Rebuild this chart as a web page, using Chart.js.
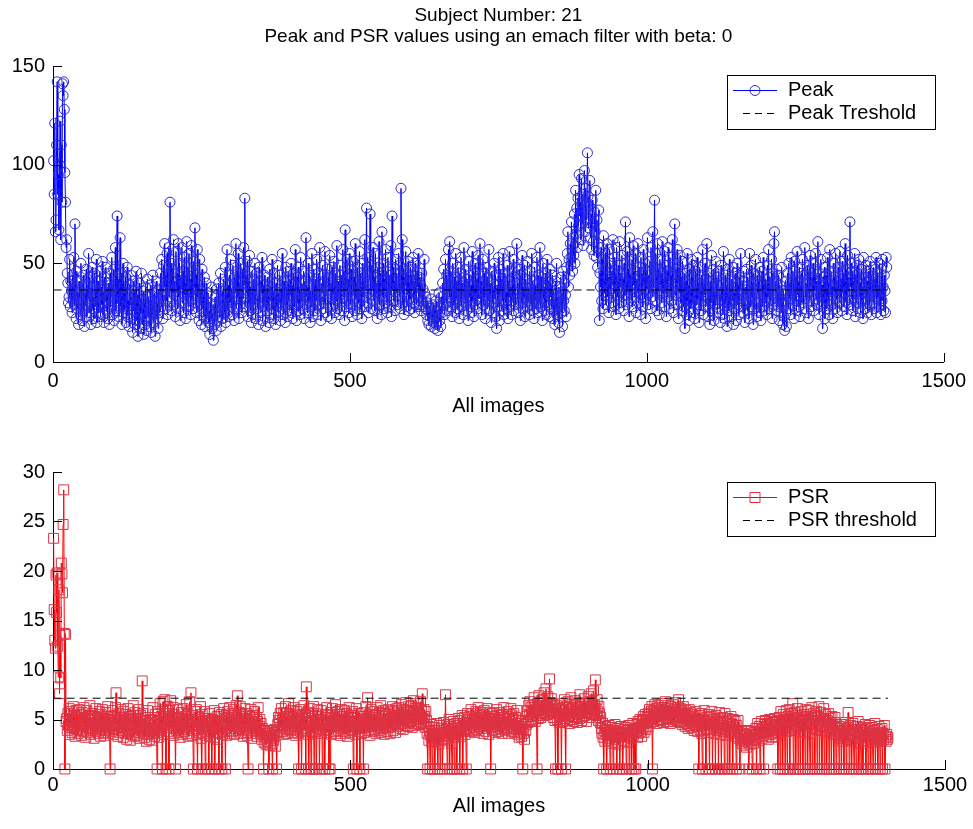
<!DOCTYPE html>
<html>
<head>
<meta charset="utf-8">
<title>Peak and PSR values</title>
<script src="https://cdn.jsdelivr.net/npm/chart.js@4.4.0/dist/chart.umd.min.js"></script>
<style>
  html, body { margin: 0; padding: 0; background: #fff; }
  #wrap { position: relative; width: 973px; height: 829px; overflow: hidden; }
  canvas { position: absolute; left: 0; }
  #peakChart { top: 0; }
  #psrChart { top: 415px; }
</style>
</head>
<body>
<div id="wrap">
  <canvas id="peakChart" width="973" height="415"></canvas>
  <canvas id="psrChart" width="973" height="414"></canvas>
</div>
<script>
// --- DATA (one value per image) ---
const titleLines = ['Subject Number: 21', 'Peak and PSR values using an emach filter with beta: 0'];
const xLabel = 'All images';
const imageTicks = [0, 500, 1000, 1500];
const peakTicks = [0, 50, 100, 150];
const psrTicks = [0, 5, 10, 15, 20, 25, 30];
const peakThreshold = 36.5;
const psrThreshold = 7.15;
const thresholdSpan = [1, 1404];

const peakValues = [
  102, 85, 121, 66, 72, 110, 142, 85, 95, 67, 100, 122, 62, 110, 81, 141, 135, 142, 128, 96,
  81, 58, 62, 45, 40, 30, 33, 52, 28, 41, 36, 25, 44, 31, 53, 29, 70, 38, 22, 46,
  27, 35, 19, 41, 33, 24, 50, 30, 21, 38, 44, 26, 18, 35, 29, 47, 23, 39, 32, 55,
  25, 43, 30, 19, 37, 48, 27, 33, 22, 45, 36, 28, 52, 20, 34, 41, 25, 30, 46, 23,
  38, 29, 51, 24, 35, 20, 43, 31, 48, 26, 37, 22, 40, 33, 19, 45, 28, 36, 53, 24,
  31, 47, 21, 39, 58, 26, 34, 74, 30, 42, 23, 36, 63, 28, 45, 19, 33, 50, 25, 38,
  27, 43, 20, 35, 48, 24, 31, 18, 39, 29, 44, 22, 33, 15, 41, 26, 36, 19, 30, 46,
  21, 34, 13, 28, 40, 17, 32, 25, 45, 19, 27, 36, 14, 30, 22, 38, 16, 29, 42, 23,
  33, 18, 26, 39, 15, 31, 24, 44, 20, 28, 35, 13, 27, 41, 22, 30, 17, 37, 25, 32,
  45, 28, 52, 34, 22, 49, 38, 60, 27, 44, 31, 55, 24, 40, 58, 33, 81, 36, 50, 26,
  47, 35, 62, 29, 41, 23, 56, 38, 45, 27, 60, 33, 50, 21, 43, 37, 58, 30, 46, 25,
  53, 34, 40, 22, 61, 31, 48, 28, 55, 36, 42, 24, 59, 32, 46, 27, 51, 38, 68, 30,
  44, 25, 57, 33, 39, 21, 52, 29, 36, 19, 47, 27, 34, 23, 43, 18, 31, 40, 22, 28,
  35, 20, 26, 14, 30, 22, 38, 17, 25, 11, 29, 19, 33, 24, 16, 37, 21, 28, 40, 23,
  31, 45, 18, 27, 36, 22, 42, 29, 25, 48, 20, 34, 57, 26, 39, 23, 44, 30, 52, 28,
  37, 24, 49, 31, 21, 43, 35, 60, 27, 46, 33, 55, 22, 40, 29, 50, 36, 25, 47, 32,
  58, 39, 83, 28, 44, 35, 51, 23, 41, 30, 54, 26, 38, 20, 46, 33, 24, 42, 29, 50,
  22, 37, 45, 27, 33, 19, 48, 30, 25, 41, 35, 53, 21, 39, 28, 44, 32, 18, 36, 26,
  43, 29, 34, 20, 47, 31, 38, 24, 52, 27, 36, 22, 45, 33, 19, 40, 28, 49, 25, 35,
  30, 44, 21, 37, 27, 55, 32, 24, 41, 35, 20, 48, 29, 38, 23, 46, 31, 26, 42, 34,
  50, 25, 39, 22, 45, 33, 28, 57, 36, 21, 43, 30, 48, 26, 37, 24, 53, 31, 40, 27,
  35, 46, 22, 41, 29, 63, 33, 38, 25, 50, 31, 44, 20, 36, 28, 55, 34, 23, 47, 39,
  26, 42, 31, 52, 24, 37, 45, 29, 58, 33, 21, 40, 35, 49, 27, 44, 30, 56, 25, 38,
  47, 32, 23, 43, 36, 54, 28, 40, 22, 48, 34, 29, 51, 37, 25, 45, 31, 59, 27, 41,
  35, 24, 49, 30, 44, 26, 39, 57, 33, 46, 21, 67, 36, 28, 52, 31, 42, 25, 55, 38,
  29, 47, 34, 23, 51, 37, 43, 26, 60, 32, 40, 24, 48, 35, 30, 56, 27, 45, 38, 22,
  50, 33, 41, 28, 62, 36, 44, 78, 30, 53, 25, 39, 46, 75, 34, 27, 49, 37, 58, 31,
  43, 26, 55, 35, 40, 22, 48, 32, 61, 29, 45, 38, 24, 66, 33, 50, 27, 42, 36, 57,
  30, 46, 25, 53, 39, 28, 44, 34, 59, 23, 74, 37, 48, 31, 41, 26, 52, 35, 45, 29,
  38, 55, 33, 49, 27, 88, 36, 62, 30, 47, 24, 43, 39, 56, 28, 45, 34, 51, 26, 40,
  32, 48, 27, 44, 36, 53, 30, 41, 25, 50, 35, 29, 46, 38, 55, 28, 43, 33, 39, 26,
  45, 31, 37, 28, 52, 35, 27, 33, 24, 30, 21, 26, 19, 28, 23, 32, 18, 25, 22, 29,
  20, 27, 17, 24, 31, 19, 26, 16, 23, 35, 21, 28, 18, 33, 25, 40, 29, 47, 24, 37,
  52, 30, 44, 26, 39, 57, 33, 61, 28, 46, 35, 23, 50, 38, 29, 43, 25, 55, 32, 41,
  27, 48, 36, 22, 45, 31, 53, 28, 40, 34, 24, 58, 37, 30, 47, 26, 42, 35, 21, 51,
  33, 44, 28, 39, 25, 56, 31, 46, 23, 37, 50, 29, 42, 35, 27, 54, 32, 48, 60, 30,
  41, 24, 36, 52, 29, 45, 33, 22, 48, 38, 27, 43, 31, 57, 26, 40, 35, 20, 46, 30,
  37, 25, 50, 32, 44, 23, 17, 39, 28, 53, 34, 21, 47, 36, 26, 42, 31, 55, 24, 38,
  45, 30, 35, 27, 49, 22, 41, 33, 56, 28, 38, 24, 46, 31, 52, 26, 43, 35, 29, 48,
  60, 32, 40, 25, 47, 36, 21, 44, 30, 54, 27, 38, 33, 49, 23, 42, 35, 28, 51, 31,
  37, 24, 46, 33, 29, 55, 26, 41, 36, 22, 48, 31, 39, 27, 53, 34, 25, 44, 30, 58,
  28, 43, 35, 21, 50, 32, 38, 26, 45, 30, 24, 52, 36, 29, 41, 23, 47, 33, 39, 27,
  44, 22, 36, 30, 19, 41, 27, 50, 24, 33, 20, 38, 15, 29, 43, 25, 35, 18, 46, 31,
  26, 40, 34, 23, 48, 55, 66, 38, 52, 44, 60, 49, 71, 57, 46, 63, 54, 75, 50, 87,
  65, 78, 58, 83, 69, 95, 74, 81, 62, 93, 70, 85, 59, 77, 97, 66, 88, 72, 80, 106,
  84, 68, 79, 92, 63, 75, 57, 82, 70, 61, 54, 76, 66, 87, 53, 72, 48, 60, 77, 21,
  45, 38, 58, 31, 52, 27, 64, 41, 35, 55, 29, 48, 60, 33, 43, 25, 57, 37, 50, 30,
  46, 39, 62, 28, 53, 35, 44, 24, 58, 41, 33, 49, 27, 61, 38, 45, 30, 54, 36, 42,
  26, 50, 34, 71, 40, 29, 56, 37, 47, 23, 63, 35, 44, 31, 52, 28, 59, 39, 46, 33,
  55, 25, 42, 36, 60, 30, 48, 38, 24, 53, 34, 45, 28, 57, 41, 32, 50, 22, 46, 37,
  63, 29, 44, 35, 51, 27, 58, 40, 33, 66, 38, 48, 82, 31, 55, 43, 26, 60, 36, 47,
  24, 52, 39, 45, 30, 61, 35, 42, 28, 56, 37, 49, 23, 46, 33, 58, 41, 27, 53, 36,
  44, 31, 62, 38, 25, 50, 70, 34, 47, 29, 57, 40, 22, 48, 35, 54, 30, 43, 26, 51,
  37, 28, 45, 17, 33, 41, 24, 55, 31, 39, 21, 47, 35, 27, 52, 30, 43, 25, 49, 34,
  22, 46, 38, 29, 53, 32, 40, 20, 48, 36, 26, 44, 31, 57, 24, 39, 34, 50, 28, 42,
  60, 33, 23, 45, 37, 19, 41, 30, 54, 26, 38, 47, 21, 35, 29, 51, 32, 43, 25, 39,
  46, 27, 34, 20, 49, 31, 40, 24, 56, 36, 22, 44, 30, 38, 18, 47, 33, 26, 52, 29,
  37, 23, 42, 31, 48, 19, 35, 27, 45, 33, 21, 50, 29, 39, 24, 43, 36, 55, 28, 32,
  41, 25, 46, 30, 20, 38, 34, 47, 26, 43, 31, 22, 55, 36, 28, 49, 33, 40, 19, 45,
  27, 37, 52, 30, 23, 44, 35, 41, 25, 48, 32, 21, 39, 46, 28, 53, 34, 26, 42, 30,
  38, 24, 49, 33, 57, 27, 43, 31, 36, 52, 22, 45, 29, 60, 66, 35, 41, 26, 47, 32,
  28, 44, 21, 39, 33, 25, 48, 30, 19, 36, 23, 16, 29, 41, 18, 35, 45, 27, 50, 32,
  40, 24, 53, 35, 29, 46, 37, 22, 51, 31, 43, 26, 56, 34, 41, 28, 48, 23, 38, 45,
  30, 52, 36, 27, 44, 58, 33, 40, 25, 49, 35, 22, 46, 31, 54, 38, 28, 43, 34, 50,
  26, 47, 37, 55, 32, 41, 29, 61, 36, 24, 45, 33, 52, 28, 39, 17, 43, 30, 48, 22,
  35, 44, 27, 53, 31, 40, 24, 57, 34, 46, 29, 38, 22, 50, 36, 43, 27, 55, 32, 41,
  25, 48, 37, 30, 56, 33, 42, 26, 51, 35, 45, 28, 39, 60, 31, 47, 24, 54, 36, 43,
  29, 71, 38, 50, 32, 46, 26, 41, 35, 55, 23, 44, 30, 49, 37, 27, 52, 33, 40, 25,
  47, 31, 38, 22, 53, 35, 43, 27, 49, 32, 41, 25, 46, 36, 29, 51, 34, 24, 44, 38,
  30, 48, 27, 42, 35, 53, 25, 45, 33, 39, 28, 50, 36, 24, 47, 31, 52, 38, 26, 44,
  36, 25, 53, 48
];

const psrValues = [
  23.3, 16.1, 13.0, 12.2, 19.6, 15.8, 19.8, 12.4, 9.3, 18.1, 7.6, 13.5, 9.2, 20.8, 19.7, 17.8, 24.7, 28.2, 13.7, 0,
  13.6, 4.8, 5.1, 3.9, 5.6, 4.4, 6.1, 3.5, 5.0, 4.2, 5.8, 3.7, 4.9, 6.3, 4.1, 5.4, 3.3, 4.7, 5.9, 4.0,
  5.2, 3.6, 4.5, 6.0, 3.9, 5.5, 4.3, 3.4, 5.7, 4.8, 3.8, 6.2, 4.6, 5.1, 3.2, 4.4, 5.9, 3.7, 4.9, 5.3,
  4.1, 6.4, 3.5, 5.0, 4.7, 3.9, 5.6, 4.2, 3.1, 5.3, 4.6, 6.1, 3.8, 4.4, 5.2, 3.6, 4.9, 5.8, 4.0, 3.3,
  5.5, 4.3, 6.0, 3.7, 4.8, 5.1, 3.4, 4.5, 5.7, 3.9, 4.2, 6.3, 3.6, 5.0, 4.4, 0, 5.3, 3.8, 4.7, 5.9,
  4.0, 3.5, 5.4, 4.6, 6.2, 7.7, 4.1, 5.0, 3.3, 4.8, 5.6, 3.7, 4.3, 6.0, 3.9, 5.2, 4.5, 3.2, 5.8, 4.2,
  3.6, 4.9, 5.5, 3.0, 4.4, 6.1, 3.8, 4.7, 5.3, 2.9, 4.1, 5.0, 3.5, 4.6, 6.4, 3.3, 4.0, 5.7, 3.7, 4.8,
  5.1, 3.4, 4.3, 6.0, 3.1, 4.5, 5.4, 3.9, 4.2, 8.9, 5.6, 3.6, 4.8, 3.2, 5.2, 4.0, 2.8, 4.6, 5.9, 3.5,
  4.4, 3.0, 5.0, 3.8, 4.7, 2.9, 4.1, 6.2, 3.6, 4.9, 3.3, 5.5, 4.0, 3.7, 0, 4.5, 5.8, 3.2, 4.3, 6.6,
  3.9, 5.3, 4.6, 0, 6.8, 5.1, 3.5, 7.0, 4.8, 0, 5.6, 4.2, 6.3, 3.8, 0, 5.9, 4.4, 6.9, 3.6, 5.0,
  4.7, 6.2, 3.4, 5.5, 4.1, 0, 5.2, 3.9, 4.6, 6.0, 3.7, 4.3, 5.1, 3.2, 4.8, 5.7, 3.5, 4.0, 6.1, 4.4,
  3.8, 5.3, 4.2, 6.5, 3.6, 4.9, 5.6, 3.3, 4.5, 6.8, 5.0, 7.7, 4.1, 3.4, 5.4, 0, 4.7, 3.9, 5.8, 4.3,
  6.0, 3.5, 0, 4.8, 5.2, 3.7, 4.4, 6.3, 3.1, 0, 5.5, 4.0, 3.6, 4.9, 5.8, 0, 3.4, 4.6, 5.1, 3.8,
  4.2, 0, 5.6, 3.3, 4.7, 3.9, 0, 5.0, 4.4, 3.2, 5.9, 0, 4.1, 3.6, 4.8, 5.3, 3.0, 4.5, 0, 5.7,
  3.7, 4.3, 5.5, 0, 3.5, 4.9, 6.1, 3.8, 4.2, 0, 5.4, 3.4, 4.6, 5.8, 3.9, 4.4, 6.2, 3.6, 5.0, 4.1,
  5.6, 3.8, 4.7, 6.0, 3.5, 5.2, 4.3, 6.4, 5.0, 7.4, 4.5, 3.9, 5.7, 4.1, 6.3, 3.6, 4.8, 5.5, 4.0, 3.3,
  5.1, 4.4, 6.1, 3.7, 4.9, 5.6, 3.4, 0, 4.6, 5.3, 3.9, 4.2, 6.0, 3.1, 4.7, 5.4, 3.6, 4.1, 5.8, 3.8,
  4.5, 5.2, 3.3, 4.8, 6.2, 3.9, 4.3, 5.0, 3.5, 4.6, 3.0, 4.1, 3.6, 0, 2.7, 3.8, 3.2, 2.5, 3.9, 3.4,
  2.8, 3.6, 0, 3.1, 2.4, 3.9, 3.3, 2.6, 0, 3.7, 2.9, 3.5, 4.0, 2.3, 3.4, 0, 3.8, 4.5, 5.2, 3.7,
  4.9, 5.6, 4.2, 6.1, 3.8, 5.0, 4.4, 5.7, 3.5, 4.7, 6.3, 4.0, 5.3, 3.6, 4.8, 6.6, 4.1, 5.5, 3.9, 5.1,
  4.3, 5.9, 3.7, 4.6, 6.2, 4.0, 5.4, 3.4, 4.9, 5.8, 4.2, 3.6, 0, 5.1, 4.5, 6.0, 3.8, 0, 4.7, 5.5,
  4.1, 6.4, 3.9, 5.2, 0, 8.3, 4.6, 5.7, 3.5, 0, 4.8, 6.1, 4.2, 0, 5.4, 3.7, 4.9, 6.3, 0, 4.4,
  5.6, 3.8, 0, 4.5, 6.0, 4.1, 5.3, 0, 3.6, 4.7, 5.9, 4.3, 0, 5.0, 3.9, 4.6, 0, 5.5, 4.0, 6.2,
  3.7, 4.8, 5.4, 0, 4.2, 0, 5.7, 3.5, 4.6, 6.1, 4.9, 3.8, 5.2, 4.4, 6.5, 3.6, 5.0, 4.3, 5.8, 3.9,
  4.7, 5.5, 3.4, 4.9, 6.0, 4.1, 5.3, 3.8, 4.5, 5.9, 3.6, 4.8, 5.6, 4.2, 3.3, 5.1, 4.4, 6.2, 3.7, 4.6,
  5.4, 3.9, 4.3, 5.8, 0, 4.0, 5.2, 3.5, 4.7, 6.1, 0, 4.4, 5.6, 3.8, 4.9, 0, 5.3, 4.1, 3.6, 5.0,
  4.5, 0, 5.7, 3.7, 4.8, 6.3, 4.2, 5.1, 7.2, 3.9, 4.6, 5.5, 3.4, 4.9, 6.0, 4.3, 5.2, 3.8, 4.7, 5.8,
  4.0, 5.4, 3.6, 4.8, 6.2, 4.4, 5.0, 3.9, 5.7, 4.2, 6.4, 3.7, 4.6, 5.3, 4.1, 5.9, 3.5, 4.9, 5.6, 4.3,
  5.1, 3.8, 4.7, 6.0, 4.2, 5.5, 3.6, 4.9, 5.8, 4.4, 6.3, 3.9, 5.2, 4.6, 5.9, 3.7, 4.8, 6.1, 4.3, 5.4,
  4.5, 6.2, 5.0, 4.1, 5.7, 6.5, 4.6, 5.3, 4.0, 6.0, 5.5, 4.4, 6.7, 5.1, 4.8, 5.9, 4.3, 6.3, 5.2, 4.7,
  5.8, 4.9, 6.4, 4.2, 5.6, 6.9, 4.6, 5.3, 6.1, 4.4, 5.7, 6.6, 4.8, 5.0, 6.2, 4.5, 5.4, 6.8, 4.7, 5.9,
  7.6, 5.1, 4.6, 6.0, 5.3, 4.2, 5.8, 4.9, 3.6, 0, 4.3, 2.9, 3.8, 0, 3.4, 4.5, 2.7, 0, 3.9, 3.1,
  4.2, 0, 3.5, 2.8, 4.6, 3.2, 0, 3.9, 2.5, 4.4, 0, 3.6, 3.0, 4.1, 0, 3.3, 4.7, 2.9, 3.7, 7.5,
  4.0, 3.4, 0, 4.5, 3.1, 5.0, 0, 3.8, 4.3, 2.6, 0, 3.6, 4.8, 3.2, 0, 4.1, 3.5, 4.6, 0, 3.9,
  4.4, 5.1, 3.7, 0, 4.9, 3.3, 4.2, 5.4, 0, 3.8, 4.6, 5.2, 3.5, 4.0, 0, 4.7, 5.6, 4.1, 5.0, 3.9,
  5.3, 4.4, 6.0, 3.8, 4.9, 5.6, 4.2, 5.1, 3.7, 4.6, 5.8, 4.0, 5.4, 4.5, 6.2, 3.9, 5.0, 4.3, 5.7, 4.8,
  4.1, 5.5, 3.6, 4.7, 5.9, 4.3, 5.2, 3.8, 4.9, 6.1, 4.4, 5.0, 3.5, 4.6, 5.7, 0, 4.2, 5.3, 3.9, 4.8,
  5.6, 4.0, 5.1, 3.7, 4.5, 6.0, 4.3, 5.4, 3.8, 4.9, 5.7, 4.1, 5.2, 4.6, 3.6, 5.5, 4.4, 6.2, 4.0, 5.0,
  4.7, 3.9, 5.3, 4.2, 5.8, 3.6, 4.8, 5.5, 4.1, 6.1, 4.5, 3.8, 5.0, 4.3, 5.6, 3.7, 4.6, 5.2, 4.0, 5.9,
  4.4, 3.5, 4.9, 3.2, 4.1, 3.7, 4.6, 3.3, 4.0, 0, 3.6, 4.3, 3.0, 4.8, 3.9, 4.5, 5.3, 5.9, 4.7, 6.4,
  5.5, 6.8, 5.0, 6.2, 5.7, 4.9, 6.5, 5.3, 7.2, 5.8, 4.8, 6.0, 5.4, 0, 6.6, 5.1, 7.4, 5.9, 6.3, 5.2,
  6.9, 5.6, 7.0, 6.1, 5.4, 7.7, 6.4, 5.7, 8.1, 6.0, 5.5, 7.3, 6.2, 5.8, 9.1, 6.7, 5.9, 7.1, 6.3, 5.6,
  6.5, 5.2, 6.0, 4.9, 0, 5.7, 6.4, 5.0, 0, 6.1, 5.4, 4.7, 6.6, 5.3, 0, 5.9, 4.8, 6.2, 5.5, 7.0,
  5.1, 0, 6.3, 5.6, 4.9, 6.8, 5.4, 6.0, 4.6, 5.8, 7.2, 5.3, 6.5, 5.0, 6.1, 4.8, 5.7, 6.9, 5.2, 6.4,
  5.5, 4.7, 6.2, 5.9, 5.1, 7.5, 5.6, 6.3, 4.9, 6.7, 5.3, 6.0, 7.1, 5.4, 6.6, 5.8, 4.8, 6.1, 5.7, 7.3,
  6.0, 5.2, 6.8, 5.6, 7.6, 6.4, 5.5, 6.2, 7.9, 5.9, 6.5, 9.0, 6.1, 5.4, 7.0, 5.8, 4.9, 6.3, 5.6, 4.7,
  5.2, 4.1, 3.6, 4.6, 3.2, 0, 3.9, 2.8, 4.3, 3.5, 0, 4.0, 2.9, 3.7, 4.4, 3.1, 0, 3.8, 2.6, 4.2,
  3.4, 0, 3.9, 3.0, 4.5, 2.7, 3.6, 0, 4.1, 3.3, 2.5, 3.8, 0, 3.2, 4.3, 2.9, 3.7, 0, 3.5, 4.0,
  2.8, 3.6, 4.2, 0, 3.3, 3.9, 2.7, 4.4, 0, 3.5, 4.0, 3.1, 0, 3.8, 4.6, 3.4, 0, 4.1, 3.7, 0,
  3.9, 4.5, 3.2, 4.8, 3.6, 4.2, 5.0, 3.8, 4.4, 3.3, 4.9, 4.1, 5.3, 3.7, 4.6, 5.5, 4.0, 4.8, 5.2, 4.3,
  5.6, 4.9, 6.0, 5.2, 4.7, 5.8, 6.3, 0, 5.1, 5.9, 4.8, 6.5, 5.4, 6.1, 4.6, 5.7, 6.4, 5.0, 6.2, 5.5,
  4.9, 6.0, 5.3, 6.6, 5.0, 5.8, 4.7, 6.2, 5.5, 6.8, 5.1, 5.9, 4.8, 6.4, 5.6, 6.1, 5.2, 4.6, 6.3, 5.7,
  5.0, 6.5, 5.4, 4.8, 6.0, 5.3, 6.7, 5.1, 5.8, 4.9, 6.2, 7.0, 5.6, 4.7, 6.1, 5.2, 5.9, 4.5, 5.5, 6.3,
  4.8, 5.4, 4.3, 5.9, 5.0, 4.6, 5.6, 4.1, 5.2, 6.0, 4.4, 5.7, 4.9, 4.2, 5.5, 4.7, 5.3, 3.9, 5.0, 4.5,
  5.8, 4.3, 5.1, 3.8, 4.9, 0, 5.4, 4.0, 4.7, 5.6, 3.6, 0, 5.0, 4.4, 5.9, 3.9, 4.6, 0, 5.2, 4.1,
  4.8, 5.5, 3.7, 0, 4.5, 5.3, 4.0, 5.8, 0, 4.3, 5.0, 3.6, 4.7, 0, 5.4, 4.2, 3.9, 5.1, 0, 4.6,
  5.7, 4.1, 3.5, 0, 4.8, 5.2, 3.8, 4.4, 0, 5.6, 4.0, 3.4, 4.9, 0, 5.1, 4.3, 3.7, 0, 4.6, 5.3,
  3.9, 4.5, 0, 5.0, 3.6, 4.2, 4.8, 3.3, 0, 4.4, 3.8, 4.9, 3.1, 3.7, 0, 3.4, 2.9, 3.8, 2.6, 3.5,
  3.0, 2.4, 3.6, 2.8, 3.3, 2.2, 3.9, 3.1, 2.7, 0, 3.5, 2.5, 3.2, 3.8, 2.9, 0, 3.4, 2.6, 3.7, 3.0,
  3.5, 4.1, 0, 3.2, 4.6, 3.8, 2.9, 4.3, 0, 3.6, 4.8, 3.1, 4.0, 3.4, 0, 4.5, 3.7, 4.9, 3.3, 4.2,
  3.8, 4.6, 3.0, 4.4, 5.0, 3.5, 4.1, 4.8, 3.2, 4.7, 3.9, 4.3, 5.1, 3.6, 4.5, 3.3, 4.0, 4.9, 0, 3.7,
  5.2, 4.4, 0, 5.8, 3.9, 4.7, 0, 5.5, 4.1, 5.0, 0, 4.6, 5.9, 3.8, 0, 5.3, 4.2, 6.0, 0, 4.8,
  5.6, 3.9, 5.1, 6.6, 0, 4.5, 5.7, 4.0, 0, 5.4, 4.3, 6.1, 0, 4.9, 5.2, 3.7, 0, 5.8, 4.4, 5.0,
  0, 4.6, 5.5, 3.8, 0, 6.0, 4.2, 5.3, 0, 4.7, 5.9, 3.6, 0, 5.1, 4.5, 6.2, 0, 4.1, 5.6, 4.9,
  0, 5.4, 4.0, 5.8, 0, 4.6, 5.2, 6.3, 0, 4.3, 5.7, 3.9, 0, 5.0, 4.4, 6.1, 0, 4.8, 5.5, 3.7,
  0, 4.9, 4.2, 5.6, 0, 3.8, 5.1, 4.4, 0, 5.3, 4.0, 3.5, 0, 4.7, 5.2, 3.6, 0, 4.5, 3.9, 4.1,
  3.4, 0, 4.3, 3.1, 3.8, 0, 4.5, 2.8, 3.6, 0, 4.1, 3.3, 4.7, 0, 3.9, 3.0, 5.7, 4.2, 0, 3.5,
  4.4, 2.9, 0, 3.7, 4.6, 3.2, 0, 4.0, 3.4, 2.7, 0, 4.3, 3.6, 4.8, 0, 3.1, 3.9, 2.6, 0, 4.2,
  3.5, 0, 4.0, 2.9, 3.7, 4.5, 0, 3.3, 4.1, 2.8, 0, 3.8, 4.4, 3.0, 0, 3.6, 4.2, 2.7, 0, 3.9,
  3.2, 4.6, 0, 3.5, 2.9, 4.0, 0, 3.4, 4.3, 3.1, 0, 3.7, 2.8, 4.1, 0, 3.6, 3.0, 4.4, 0, 3.3,
  2.8, 3.5, 3.0, 3.2
];

// image number of each reading
const imageIndex = peakValues.map((_, i) => i + 1);

const FONT = '"Liberation Sans", Arial, Helvetica, sans-serif';

// MATLAB look: inward ticks, legend box, two-line title
const matlabAxes = {
    id: 'matlabAxes',
    afterDraw(chart, args, opts) {
        const ctx = chart.ctx;
        const { x, y } = chart.scales;
        ctx.save();
        ctx.strokeStyle = '#000';
        ctx.lineWidth = 1;
        ctx.setLineDash([]);
        ctx.beginPath();
        x.ticks.forEach(t => {
            const px = Math.round(x.getPixelForValue(t.value)) + 0.5;
            ctx.moveTo(px, y.bottom);
            ctx.lineTo(px, y.bottom - 9);
        });
        y.ticks.forEach(t => {
            const py = Math.round(y.getPixelForValue(t.value)) + 0.5;
            ctx.moveTo(x.left, py);
            ctx.lineTo(x.left + 9, py);
        });
        ctx.stroke();

        if (opts.title) {
            ctx.fillStyle = '#000';
            ctx.font = '19px ' + FONT;
            ctx.textAlign = 'center';
            ctx.textBaseline = 'middle';
            const cx = (chart.chartArea.left + chart.chartArea.right) / 2;
            opts.title.forEach((line, i) => ctx.fillText(line, cx, 16 + 21 * i));
        }

        const lg = opts.legend;
        if (lg) {
            ctx.fillStyle = '#fff';
            ctx.fillRect(lg.x, lg.y, lg.w, lg.h);
            ctx.strokeStyle = '#000';
            ctx.strokeRect(lg.x + 0.5, lg.y + 0.5, lg.w, lg.h);
            lg.rows.forEach((row, i) => {
                const ry = lg.y + 15 + 23 * i + 0.5;
                ctx.strokeStyle = row.color;
                ctx.lineWidth = 1;
                if (row.dashed) {
                    ctx.setLineDash([7, 5]);
                    ctx.beginPath();
                    ctx.moveTo(lg.x + 16, ry);
                    ctx.lineTo(lg.x + 50, ry);
                    ctx.stroke();
                    ctx.setLineDash([]);
                } else {
                    ctx.beginPath();
                    ctx.moveTo(lg.x + 6, ry);
                    ctx.lineTo(lg.x + 50, ry);
                    ctx.stroke();
                    ctx.strokeStyle = row.markerColor;
                    ctx.beginPath();
                    if (row.marker === 'circle') {
                        ctx.arc(lg.x + 28, ry, 5, 0, Math.PI * 2);
                    } else {
                        ctx.rect(lg.x + 23, ry - 5, 10, 10);
                    }
                    ctx.stroke();
                }
                ctx.fillStyle = '#000';
                ctx.font = '20px ' + FONT;
                ctx.textAlign = 'left';
                ctx.textBaseline = 'middle';
                ctx.fillText(row.label, lg.x + 61, ry);
            });
        }
        ctx.restore();
    }
};

function buildChart(canvasId, cfg) {
    return new Chart(document.getElementById(canvasId), {
        type: 'line',
        plugins: [matlabAxes],
        data: {
            datasets: [
                {
                    label: cfg.thresholdLabel,
                    data: thresholdSpan.map(v => ({ x: v, y: cfg.threshold })),
                    borderColor: '#000',
                    borderWidth: 1,
                    borderDash: [8, 5],
                    pointRadius: 0,
                    clip: false
                },
                {
                    label: cfg.label,
                    data: cfg.values.map((v, i) => ({ x: imageIndex[i], y: v })),
                    borderColor: cfg.color,
                    borderWidth: 1,
                    tension: 0,
                    pointStyle: cfg.pointStyle,
                    pointRadius: cfg.pointRadius,
                    pointBorderColor: cfg.markerColor,
                    pointBackgroundColor: 'rgba(0,0,0,0)',
                    pointBorderWidth: 1,
                    clip: false
                }
            ]
        },
        options: {
            responsive: false,
            animation: false,
            devicePixelRatio: 1,
            events: [],
            layout: { padding: { top: cfg.top, right: 28, left: 0, bottom: 0 } },
            plugins: {
                legend: { display: false },
                tooltip: { enabled: false },
                title: { display: false },
                matlabAxes: { title: cfg.title, legend: cfg.legend }
            },
            scales: {
                x: {
                    type: 'linear',
                    min: 0,
                    max: 1500,
                    afterBuildTicks: s => { s.ticks = imageTicks.map(v => ({ value: v })); },
                    afterFit: s => { s.height = cfg.xHeight; },
                    grid: { display: false, drawTicks: false },
                    border: { display: true, color: '#000', width: 1 },
                    ticks: {
                        font: { family: FONT, size: 20 },
                        color: '#000',
                        padding: cfg.xTickPad,
                        maxRotation: 0,
                        autoSkip: false,
                        callback: v => String(v)
                    },
                    title: {
                        display: true,
                        text: xLabel,
                        color: '#000',
                        font: { family: FONT, size: 20 },
                        padding: { top: 0, bottom: cfg.xTitlePad }
                    }
                },
                y: {
                    type: 'linear',
                    min: 0,
                    max: cfg.yTicks[cfg.yTicks.length - 1],
                    afterBuildTicks: s => { s.ticks = cfg.yTicks.map(v => ({ value: v })); },
                    afterFit: s => { s.width = 53; },
                    grid: { display: false, drawTicks: false },
                    border: { display: true, color: '#000', width: 1 },
                    ticks: {
                        font: { family: FONT, size: 20 },
                        color: '#000',
                        padding: 8,
                        callback: v => String(v)
                    }
                }
            }
        }
    });
}

document.addEventListener('DOMContentLoaded', () => {
    buildChart('peakChart', {
        label: 'Peak',
        thresholdLabel: 'Peak Treshold',
        values: peakValues,
        threshold: peakThreshold,
        yTicks: peakTicks,
        color: '#0000ff',
        markerColor: '#2a2ad2',
        pointStyle: 'circle',
        pointRadius: 5,
        top: 66,
        xHeight: 53,
        xTickPad: 7,
        xTitlePad: -3,
        title: titleLines,
        legend: {
            x: 727, y: 75, w: 208, h: 54,
            rows: [
                { label: 'Peak', color: '#0000ff', markerColor: '#2a2ad2', marker: 'circle' },
                { label: 'Peak Treshold', color: '#000', dashed: true }
            ]
        }
    });

    buildChart('psrChart', {
        label: 'PSR',
        thresholdLabel: 'PSR threshold',
        values: psrValues,
        threshold: psrThreshold,
        yTicks: psrTicks,
        color: '#ff0000',
        markerColor: '#dd3344',
        pointStyle: 'rect',
        pointRadius: 7,
        top: 57,
        xHeight: 60,
        xTickPad: 4,
        xTitlePad: 11,
        title: null,
        legend: {
            x: 727, y: 67, w: 208, h: 54,
            rows: [
                { label: 'PSR', color: '#ff0000', markerColor: '#dd3344', marker: 'rect' },
                { label: 'PSR threshold', color: '#000', dashed: true }
            ]
        }
    });
});
</script>
</body>
</html>
